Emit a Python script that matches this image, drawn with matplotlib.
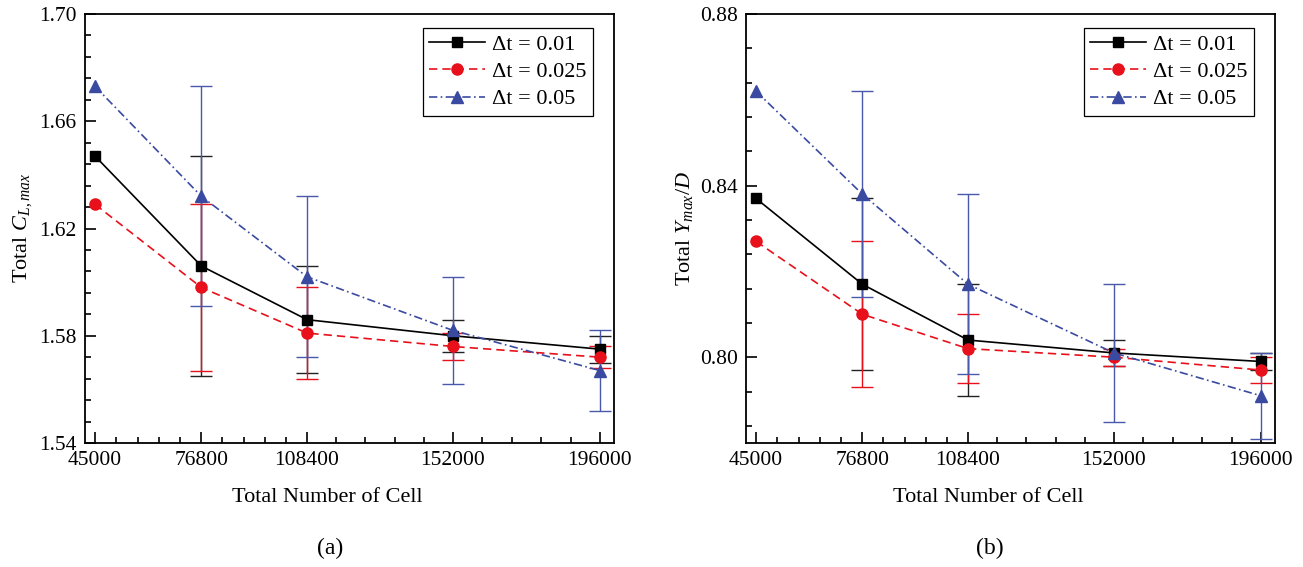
import numpy as np
import matplotlib
matplotlib.use('Agg')
import matplotlib.pyplot as plt
from matplotlib.ticker import FixedLocator, AutoMinorLocator, FormatStrFormatter

plt.rcParams['font.family'] = ['Liberation Serif', 'DejaVu Serif']
plt.rcParams['mathtext.fontset'] = 'custom'
plt.rcParams['mathtext.rm'] = 'Liberation Serif'
plt.rcParams['mathtext.it'] = 'Liberation Serif:italic'

# mesh sizes
cells = [45000, 76800, 108400, 152000, 196000]
labels = ['\u0394t = 0.01', '\u0394t = 0.025', '\u0394t = 0.05']

# (a) total C_L,max
cl_001 = [1.647, 1.606, 1.586, 1.580, 1.575]
cl_0025 = [1.629, 1.598, 1.581, 1.576, 1.572]
cl_005 = [1.673, 1.632, 1.602, 1.582, 1.567]
cl_err_001 = [0.0, 0.041, 0.020, 0.006, 0.005]
cl_err_0025 = [0.0, 0.031, 0.017, 0.005, 0.004]
cl_err_005 = [0.0, 0.041, 0.030, 0.020, 0.015]

# (b) total Y_max/D
ym_001 = [0.837, 0.817, 0.804, 0.801, 0.799]
ym_0025 = [0.827, 0.810, 0.802, 0.800, 0.797]
ym_005 = [0.862, 0.838, 0.817, 0.801, 0.791]
ym_err_001 = [0.0, 0.020, 0.013, 0.003, 0.002]
ym_err_0025 = [0.0, 0.017, 0.008, 0.002, 0.003]
ym_err_005 = [0.0, 0.024, 0.021, 0.016, 0.010]

cl_ticks = [1.54, 1.58, 1.62, 1.66, 1.70]
ym_ticks = [0.80, 0.84, 0.88]

styles = [
    dict(color='black', ecolor='#222222', ls='-', marker='s', ms=7),
    dict(color='#E8101A', ecolor='#E8101A', ls=(0, (5, 3)), marker='o', ms=8),
    dict(color='#3A4AA0', ecolor='#4A58AC', ls=(0, (5, 2, 1, 2)), marker='^', ms=9),
]

fig = plt.figure(figsize=(13.03, 5.67), dpi=100)
ax1 = fig.add_axes([85 / 1303, 1 - 443 / 567, 529 / 1303, 429 / 567])
ax2 = fig.add_axes([746 / 1303, 1 - 443 / 567, 529 / 1303, 429 / 567])

minor_x = []
for a, b in zip(cells[:-1], cells[1:]):
    minor_x += list(np.linspace(a, b, 6)[1:-1])


def draw(ax, series, errs, ylim, yticks, ylabel):
    handles = []
    for y, e, st, lab in zip(series, errs, styles, labels):
        ax.errorbar(cells, y, yerr=e, fmt='none', ecolor=st['ecolor'],
                    elinewidth=1.0, capsize=8, capthick=1.0, errorevery=(1, 1),
                    zorder=3)
        h, = ax.plot(cells, y, color=st['color'], ls=st['ls'], lw=1.2,
                     marker=st['marker'], ms=st['ms'], mfc=st['color'],
                     mec=st['color'], label=lab, zorder=4)
        handles.append(h)
    ax.set_xlim(42000, 200200)
    ax.set_ylim(*ylim)
    ax.xaxis.set_major_locator(FixedLocator(cells))
    ax.xaxis.set_minor_locator(FixedLocator(minor_x))
    ax.set_xticklabels([str(c) for c in cells])
    ax.set_yticks(yticks)
    ax.yaxis.set_minor_locator(AutoMinorLocator(5))
    ax.yaxis.set_major_formatter(FormatStrFormatter('%.2f'))
    ax.tick_params(which='both', direction='in', top=False, right=False,
                   labelsize=15.5, width=1.2)
    ax.tick_params(which='major', length=8, pad=6)
    ax.tick_params(which='minor', length=4)
    for sp in ax.spines.values():
        sp.set_linewidth(1.3)
    ax.set_xlabel('Total Number of Cell', fontsize=16)
    ax.xaxis.set_label_coords(0.459, -0.105)
    ax.set_ylabel(ylabel, fontsize=16)
    ax.yaxis.set_label_coords(-0.097, 0.5)
    leg = ax.legend(handles=handles, loc='upper right',
                    bbox_to_anchor=(0.96, 0.968), borderaxespad=0,
                    fontsize=16, handlelength=2.5, handletextpad=0.3,
                    labelspacing=0.3, borderpad=0.3, fancybox=False,
                    framealpha=1, edgecolor='black')
    leg.get_frame().set_linewidth(0.9)


draw(ax1, [cl_001, cl_0025, cl_005], [cl_err_001, cl_err_0025, cl_err_005],
     (1.54, 1.70), cl_ticks, r'Total $C_{L,max}$')
draw(ax2, [ym_001, ym_0025, ym_005], [ym_err_001, ym_err_0025, ym_err_005],
     (0.78, 0.88), ym_ticks, r'Total $Y_{max}/D$')

fig.text(330 / 1303, 1 - 548 / 567, '(a)', fontsize=17, ha='center', va='center')
fig.text(990 / 1303, 1 - 548 / 567, '(b)', fontsize=17, ha='center', va='center')

fig.savefig('out.png', dpi=100)
